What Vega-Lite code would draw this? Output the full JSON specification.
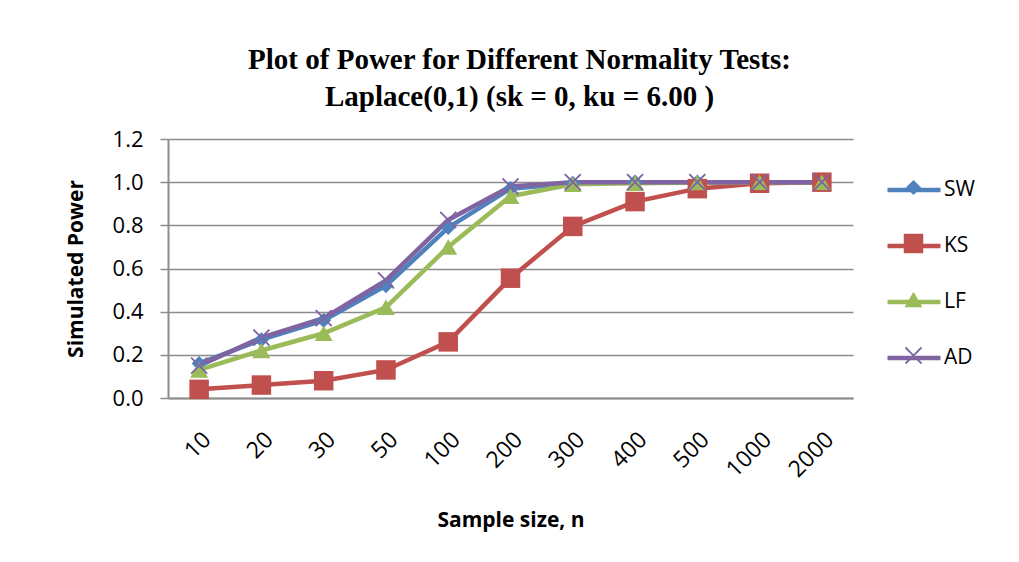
{
  "$schema": "https://vega.github.io/schema/vega-lite/v6.json",
  "width": 685,
  "height": 259,
  "autosize": {"type": "none"},
  "padding": {"left": 168, "top": 139, "right": 166, "bottom": 164},
  "background": "white",
  "title": {
    "text": ["Plot of Power for Different Normality Tests:", "Laplace(0,1) (sk = 0, ku = 6.00 )"],
    "font": "Liberation Serif",
    "fontSize": 29,
    "fontWeight": "bold",
    "lineHeight": 37,
    "anchor": "middle",
    "frame": "group",
    "dx": 9,
    "offset": 16,
    "color": "black"
  },
  "config": {
    "view": {"stroke": null},
    "axis": {"labelFont": "Open Sans", "titleFont": "Open Sans", "labelColor": "black", "titleColor": "black"},
    "legend": {"labelFont": "Open Sans", "labelColor": "black"}
  },
  "data": {
    "values": [
      {"n": "10", "test": "SW", "power": 0.16},
      {"n": "20", "test": "SW", "power": 0.27},
      {"n": "30", "test": "SW", "power": 0.36},
      {"n": "50", "test": "SW", "power": 0.52},
      {"n": "100", "test": "SW", "power": 0.79},
      {"n": "200", "test": "SW", "power": 0.97},
      {"n": "300", "test": "SW", "power": 0.995},
      {"n": "400", "test": "SW", "power": 1.0},
      {"n": "500", "test": "SW", "power": 1.0},
      {"n": "1000", "test": "SW", "power": 1.0},
      {"n": "2000", "test": "SW", "power": 1.0},
      {"n": "10", "test": "KS", "power": 0.04},
      {"n": "20", "test": "KS", "power": 0.06},
      {"n": "30", "test": "KS", "power": 0.08},
      {"n": "50", "test": "KS", "power": 0.13},
      {"n": "100", "test": "KS", "power": 0.26},
      {"n": "200", "test": "KS", "power": 0.555},
      {"n": "300", "test": "KS", "power": 0.795},
      {"n": "400", "test": "KS", "power": 0.91},
      {"n": "500", "test": "KS", "power": 0.97},
      {"n": "1000", "test": "KS", "power": 0.995},
      {"n": "2000", "test": "KS", "power": 1.0},
      {"n": "10", "test": "LF", "power": 0.13},
      {"n": "20", "test": "LF", "power": 0.22},
      {"n": "30", "test": "LF", "power": 0.30},
      {"n": "50", "test": "LF", "power": 0.42},
      {"n": "100", "test": "LF", "power": 0.70},
      {"n": "200", "test": "LF", "power": 0.935},
      {"n": "300", "test": "LF", "power": 0.99},
      {"n": "400", "test": "LF", "power": 0.995},
      {"n": "500", "test": "LF", "power": 0.998},
      {"n": "1000", "test": "LF", "power": 1.0},
      {"n": "2000", "test": "LF", "power": 1.0},
      {"n": "10", "test": "AD", "power": 0.15},
      {"n": "20", "test": "AD", "power": 0.28},
      {"n": "30", "test": "AD", "power": 0.37},
      {"n": "50", "test": "AD", "power": 0.545},
      {"n": "100", "test": "AD", "power": 0.825},
      {"n": "200", "test": "AD", "power": 0.98},
      {"n": "300", "test": "AD", "power": 1.0},
      {"n": "400", "test": "AD", "power": 1.0},
      {"n": "500", "test": "AD", "power": 1.0},
      {"n": "1000", "test": "AD", "power": 1.0},
      {"n": "2000", "test": "AD", "power": 1.0}
    ]
  },
  "encoding": {
    "x": {
      "field": "n",
      "type": "ordinal",
      "sort": ["10", "20", "30", "50", "100", "200", "300", "400", "500", "1000", "2000"],
      "scale": {"type": "point", "padding": 0.5},
      "axis": {
        "title": "Sample size, n",
        "titleFontSize": 21,
        "titleFontWeight": "bold",
        "titlePadding": 28,
        "labelAngle": -45,
        "labelFontSize": 23,
        "labelPadding": 30,
        "ticks": false,
        "grid": false,
        "domainColor": "#8c8c8c",
        "domainWidth": 2
      }
    },
    "y": {
      "field": "power",
      "type": "quantitative",
      "scale": {"domain": [0, 1.2], "nice": false, "zero": true},
      "axis": {
        "title": "Simulated Power",
        "titleFontSize": 21,
        "titleFontWeight": "bold",
        "titlePadding": 26,
        "values": [0, 0.2, 0.4, 0.6, 0.8, 1.0, 1.2],
        "format": ".1f",
        "labelFontSize": 22,
        "labelPadding": 17,
        "tickSize": 8,
        "tickColor": "#8c8c8c",
        "tickWidth": 1.5,
        "domainColor": "#8c8c8c",
        "domainWidth": 2,
        "gridColor": "#8c8c8c",
        "gridWidth": 1.5
      }
    }
  },
  "layer": [
    {
      "mark": {"type": "line", "strokeWidth": 4.5},
      "encoding": {
        "stroke": {
          "field": "test",
          "type": "nominal",
          "sort": ["SW", "KS", "LF", "AD"],
          "scale": {"range": ["#4F81BD", "#C0504D", "#9BBB59", "#8064A2"]},
          "legend": {
            "title": null,
            "orient": "none",
            "legendX": 717,
            "legendY": 22,
            "padding": 0,
            "symbolType": "stroke",
            "symbolSize": 2809,
            "symbolStrokeWidth": 4.5,
            "labelFontSize": 21,
            "labelOffset": 1,
            "rowPadding": 17
          }
        }
      }
    },
    {
      "mark": {"type": "point", "filled": true, "opacity": 1},
      "encoding": {
        "color": {
          "field": "test",
          "type": "nominal",
          "scale": {"domain": ["SW", "KS", "LF", "AD"], "range": ["#4F81BD", "#C0504D", "#9BBB59", "#8064A2"]},
          "legend": {
            "title": null,
            "orient": "none",
            "legendX": 735,
            "legendY": 38,
            "padding": 0,
            "labelExpr": "''",
            "labelFontSize": 21,
            "rowPadding": 34
          }
        },
        "shape": {
          "field": "test",
          "type": "nominal",
          "scale": {
            "domain": ["SW", "KS", "LF", "AD"],
            "range": ["diamond", "square", "triangle-up", "M-1,-0.85L-0.85,-1L0,-0.15L0.85,-1L1,-0.85L0.15,0L1,0.85L0.85,1L0,0.15L-0.85,1L-1,0.85L-0.15,0Z"]
          }
        },
        "size": {
          "field": "test",
          "type": "nominal",
          "scale": {"type": "ordinal", "domain": ["SW", "KS", "LF", "AD"], "range": [230, 380, 320, 300]}
        }
      }
    }
  ]
}
